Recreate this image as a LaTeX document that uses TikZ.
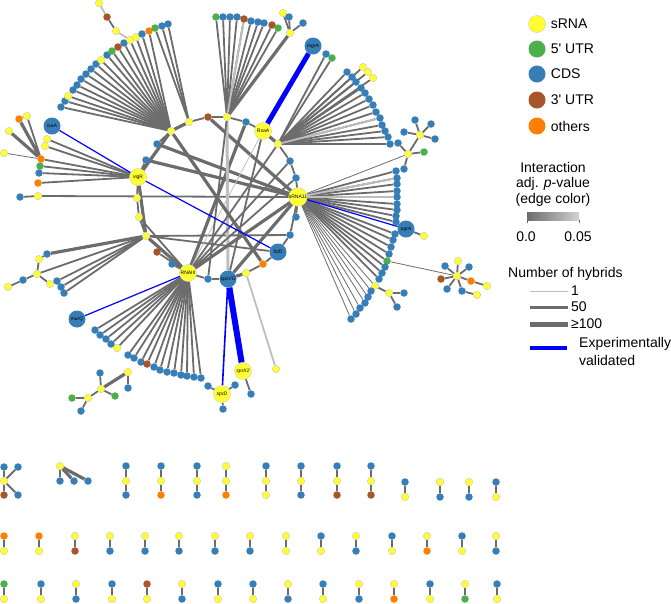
\documentclass[tikz,border=0pt]{standalone}
\usepackage{fontspec}
\newfontfamily\leyenda{Liberation Sans}
\usetikzlibrary{positioning}
\definecolor{amarillo}{RGB}{255,255,51}
\definecolor{verde}{RGB}{77,175,74}
\definecolor{azul}{RGB}{55,126,184}
\definecolor{marron}{RGB}{166,86,40}
\definecolor{naranja}{RGB}{255,127,0}
\definecolor{grisosc}{RGB}{108,108,108}
\definecolor{grisclaro}{RGB}{190,190,190}
\definecolor{valido}{RGB}{0,0,255}
\pgfdeclarelayer{fondo}
\pgfsetlayers{fondo,main}
\tikzset{
  nodo/.style={circle, inner sep=0pt, minimum size=7.5pt, draw=none},
  srna/.style={nodo, fill=amarillo, draw=black!25, line width=0.3pt},
  utrc/.style={nodo, fill=verde},
  cds/.style={nodo, fill=azul},
  utrt/.style={nodo, fill=marron},
  otro/.style={nodo, fill=naranja},
  hub/.style={minimum size=17pt, font=\leyenda\fontsize{5}{5}\selectfont},
  arista/.style={draw=grisosc, line width=1.8pt},
  gruesa/.style={draw=grisosc, line width=3.2pt},
  fina/.style={draw=grisosc, line width=0.8pt},
  clara/.style={draw=grisclaro, line width=1.8pt},
  valid/.style={draw=valido, line width=1.2pt},
  leytexto/.style={font=\leyenda\fontsize{14}{15.5}\selectfont, inner sep=1pt},
}
\begin{document}
\begin{tikzpicture}[x=1pt,y=-1pt]
  \useasboundingbox (0,0) rectangle (671,603);

  % nodos principales
  \node[srna,hub] (rsaa)   at (263,131) {RsaA};
  \node[cds,hub]  (mgra)   at (313,46)  {\itshape mgrA};
  \node[srna,hub] (vigr)   at (138,177) {vigR};
  \node[cds,hub]  (isaa)   at (52,126)  {\itshape isaA};
  \node[srna,hub] (srna11) at (298,197) {sRNA11};
  \node[cds,hub]  (agra)   at (406,229) {\itshape agrA};
  \node[cds,hub]  (fold)   at (278,252) {\itshape folD};
  \node[srna,hub] (rna3)   at (188,273) {RNAIII};
  \node[cds,hub]  (spovg)  at (228,279) {\itshape spoVG};
  \node[cds,hub]  (murq)   at (77,319)  {\itshape murQ};
  \node[srna,hub] (sprx2)  at (243,371) {\itshape sprX2};
  \node[srna,hub] (sprd)   at (222,394) {\itshape sprD};

  % anillo central
  \node[srna] (h1)  at (171,131) {};
  \node[srna] (h2)  at (189,122) {};
  \node[srna] (h3)  at (227,117) {};
  \node[srna] (h4)  at (278,144) {};
  \node[srna] (h5)  at (146,236) {};
  \node[cds]  (r1)  at (157,144) {};
  \node[cds]  (r2)  at (146,160) {};
  \node[srna] (r3)  at (137,198) {};
  \node[srna] (r4)  at (139,217) {};
  \node[utrt] (r5)  at (157,252) {};
  \node[cds]  (r6)  at (172,264) {};
  \node[cds]  (r7)  at (208,279) {};
  \node[srna] (r8)  at (246,273) {};
  \node[otro] (r9)  at (263,264) {};
  \node[cds]  (r10) at (290,235) {};
  \node[cds]  (r11) at (296,217) {};
  \node[cds]  (r12) at (296,178) {};
  \node[cds]  (r13) at (290,161) {};
  \node[cds]  (r14) at (246,122) {};
  \node[utrt] (r15) at (208,117) {};
  \node[cds]  (y1)  at (20,197)  {};
  \node[srna] (y2)  at (38,196)  {};
  \node[srna] (p1)  at (276,369) {};
  \node[cds]  (m1)  at (326,54)  {};
  \node[utrc] (m2)  at (332,58)  {};
  \node[srna] (ag1) at (424,236) {};

  % abanico arriba a la izquierda
  \foreach \x/\y/\c [count=\i] in {61/107/cds, 65/101/cds, 68/96/srna, 73/90/cds,
      77/85/cds, 81/79/cds, 86/74/cds, 91/69/cds, 96/64/cds, 101/60/srna, 107/55/cds,
      112/51/utrc, 118/47/utrt, 124/43/cds, 130/40/srna, 136/37/srna, 142/34/cds,
      149/31/otro, 155/28/utrc, 162/26/cds, 168/24/cds}
    \node[\c] (tl\i) at (\x,\y) {};
  \node[srna] (c1) at (99,3)   {};
  \node[utrt] (c2) at (107,17) {};
  \node[srna] (c3) at (116,31) {};

  % abanico arriba al centro
  \foreach \x/\y/\c [count=\i] in {216/17/utrc, 223/17/cds, 230/17/cds, 237/17/cds,
      244/19/utrt, 251/21/cds, 258/22/cds, 264/23/cds, 272/25/utrt, 278/28/utrc}
    \node[\c] (tc\i) at (\x,\y) {};
  \node[srna] (t11) at (283,13) {};
  \node[cds]  (t12) at (289,17) {};
  \node[srna] (t13) at (290,33) {};
  \node[cds]  (t14) at (303,23) {};

  % abanico de RsaA
  \foreach \x/\y/\c [count=\i] in {347/72/cds, 352/77/cds, 356/82/cds, 361/88/cds,
      365/93/cds, 369/99/cds, 373/105/cds, 376/112/cds, 380/118/cds, 382/125/cds,
      385/131/cds, 388/137/cds, 390/144/cds, 363/67/srna, 368/72/srna, 373/78/srna}
    \node[\c] (rf\i) at (\x,\y) {};

  % estrella 1
  \node[srna] (s1c) at (420,135) {};
  \node[cds]  (s1a) at (415,120) {};
  \node[cds]  (s1b) at (431,124) {};
  \node[cds]  (s1d) at (404,132) {};
  \node[cds]  (s1e) at (435,139) {};
  \node[srna] (s1y) at (408,154) {};
  \node[cds]  (s1f) at (398,143) {};
  \node[utrc] (s1g) at (424,152) {};
  \node[cds]  (s1h) at (404,169) {};

  % abanico de sRNA11
  \foreach \x/\y/\c [count=\i] in {396/171/cds, 397/178/cds, 397/184/cds, 397/191/cds,
      397/197/cds, 397/204/cds, 397/210/cds, 396/216/cds, 396/222/cds, 395/234/cds,
      393/240/cds, 391/247/cds, 389/254/cds, 387/261/utrc, 385/267/cds, 382/273/cds,
      379/279/cds, 375/286/srna, 371/291/cds, 368/297/cds, 365/303/cds, 360/308/cds,
      356/314/cds, 351/319/cds}
    \node[\c] (sf\i) at (\x,\y) {};
  \node[srna] (q1) at (389,293) {};
  \node[cds]  (q2) at (404,293) {};
  \node[cds]  (q3) at (397,307) {};

  % estrella 2
  \node[srna] (s2c) at (457,276) {};
  \node[srna] (s2a) at (458,261) {};
  \node[cds]  (s2b) at (445,266) {};
  \node[cds]  (s2d) at (469,267) {};
  \node[utrt] (s2e) at (441,279) {};
  \node[otro] (s2f) at (471,281) {};
  \node[srna] (s2g) at (487,286) {};
  \node[srna] (s2h) at (477,295) {};
  \node[cds]  (s2i) at (462,291) {};
  \node[cds]  (s2j) at (447,289) {};

  % izquierda de vigR
  \foreach \x/\y/\c [count=\i] in {19/119/otro, 27/116/srna, 9/131/srna, 47/139/srna,
      45/146/srna, 4/153/srna, 41/159/otro, 40/166/utrc, 39/173/cds, 38/183/otro}
    \node[\c] (vl\i) at (\x,\y) {};

  % abajo a la izquierda
  \foreach \x/\y/\c [count=\i] in {47/254/cds, 39/259/srna, 37/274/srna, 23/280/cds,
      8/287/srna, 50/284/srna, 57/281/cds, 61/287/cds, 64/293/cds}
    \node[\c] (ll\i) at (\x,\y) {};

  % abanico de RNAIII
  \foreach \x/\y/\c [count=\i] in {95/330/cds, 100/335/cds, 106/339/cds, 111/344/cds,
      117/348/srna, 128/355/cds, 134/358/cds, 141/362/cds, 147/364/utrt, 154/367/cds,
      160/370/cds, 167/372/cds, 174/373/cds, 181/375/cds, 187/376/cds, 194/377/cds,
      201/378/cds}
    \node[\c] (rl\i) at (\x,\y) {};
  \node[srna] (b1) at (128,372) {};
  \node[cds]  (b2) at (128,388) {};
  \node[srna] (b3) at (101,389) {};
  \node[cds]  (b4) at (100,373) {};
  \node[srna] (b5) at (88,398)  {};
  \node[utrc] (b6) at (72,398)  {};
  \node[utrc] (b7) at (115,396) {};
  \node[cds]  (b8) at (81,411)  {};
  \node[cds]  (sd1) at (208,386) {};
  \node[cds]  (sd2) at (235,385) {};
  \node[cds]  (sd3) at (223,409) {};
  \node[cds]  (sx1) at (251,394) {};

  % componentes sueltas, fila 1
  \node[srna] (k1) at (4,481)  {};
  \node[cds]  (k2) at (4,467)  {};
  \node[cds]  (k3) at (18,467) {};
  \node[utrt] (k4) at (4,495)  {};
  \node[cds]  (k5) at (18,495) {};
  \node[srna] (j1) at (60,466) {};
  \node[cds]  (j2) at (60,481) {};
  \node[cds]  (j3) at (74,481) {};
  \node[cds]  (j4) at (88,481) {};
  \foreach \x/\a/\b/\c [count=\i] in {126/cds/srna/cds, 161/cds/srna/otro,
      197/cds/srna/cds, 226/srna/srna/otro, 266/cds/srna/srna, 301/cds/srna/cds,
      337/cds/srna/utrt, 371/cds/srna/utrt}{
    \node[\a] (ta\i) at (\x,466) {};
    \node[\b] (tb\i) at (\x,481) {};
    \node[\c] (tc\i x) at (\x,495) {};
  }
  \foreach \x/\a/\b [count=\i] in {405/cds/srna, 440/srna/cds, 469/srna/cds, 496/cds/srna}{
    \node[\a] (pa\i) at (\x,482) {};
    \node[\b] (pb\i) at (\x,497) {};
  }
  % fila 2
  \foreach \x/\a/\b [count=\i] in {4/otro/srna, 39/otro/srna, 75/srna/utrt, 110/srna/cds,
      145/srna/cds, 179/srna/cds, 215/srna/cds, 250/srna/cds, 286/srna/srna,
      321/cds/srna, 356/srna/cds, 392/cds/srna, 427/srna/otro, 462/cds/srna, 496/srna/cds}{
    \node[\a] (qa\i) at (\x,536) {};
    \node[\b] (qb\i) at (\x,551) {};
  }
  % fila 3
  \foreach \x/\a/\b [count=\i] in {4/utrc/srna, 41/cds/srna, 76/srna/cds, 112/cds/srna,
      147/utrt/srna, 182/srna/cds, 218/cds/srna, 253/cds/srna, 288/srna/cds,
      323/cds/srna, 359/srna/cds, 394/srna/otro, 430/cds/srna, 465/srna/utrc, 497/cds/srna}{
    \node[\a] (wa\i) at (\x,584) {};
    \node[\b] (wb\i) at (\x,599) {};
  }

  \begin{pgfonlayer}{fondo}
    % abanicos
    \foreach \i in {1,...,18} \draw[arista] (h1) -- (tl\i);
    \foreach \i in {19,20,21} \draw[arista] (h2) -- (tl\i);
    \draw[clara] (c1) -- (c2);
    \draw[arista] (c2) -- (c3);
    \draw[clara] (c3) -- (tl15);
    \foreach \i in {1,...,10} \draw[arista] (h3) -- (tc\i);
    \draw[clara] (h3) -- (tc5);
    \foreach \i in {11,12,14} \draw[arista] (t13) -- (t\i);
    \draw[gruesa] (t13) -- (h3);
    \foreach \i in {1,...,16} \draw[arista] (h4) -- (rf\i);
    \draw[clara] (h4) -- (rf9);
    \draw[arista] (h4) -- (m1);
    \draw[arista] (h4) -- (m2);
    \foreach \i in {1,...,17} \draw[arista] (srna11) -- (sf\i);
    \foreach \i in {18,...,24} \draw[fina] (srna11) -- (sf\i);
    \foreach \i in {2,5} \draw[clara] (srna11) -- (sf\i);
    \draw[arista] (sf18) -- (q1);
    \draw[arista] (q1) -- (q2);
    \draw[arista] (q1) -- (q3);
    \draw[fina] (srna11) -- (s1y);
    \foreach \n in {s1a,s1b,s1d,s1e,s1y} \draw[arista] (s1c) -- (\n);
    \foreach \n in {s1f,s1g,s1h} \draw[arista] (s1y) -- (\n);
    \draw[fina] (sf14) -- (s2c);
    \foreach \n in {s2a,s2b,s2d,s2e,s2f,s2i,s2j} \draw[arista] (s2c) -- (\n);
    \draw[arista] (s2f) -- (s2g);
    \draw[arista] (s2i) -- (s2h);
    \draw[arista] (agra) -- (ag1);
    \foreach \i in {4,5,7,8,9,10} \draw[arista] (vigr) -- (vl\i);
    \draw[gruesa] (vl1) -- (vl7);
    \draw[arista] (vl2) -- (vl7);
    \draw[arista] (vl1) -- (vl2);
    \draw[gruesa] (vl3) -- (vl7);
    \draw[fina] (vl6) -- (vl7);
    \draw[gruesa] (h5) -- (ll1);
    \draw[arista] (ll1) -- (ll2);
    \draw[arista] (ll2) -- (ll3);
    \draw[arista] (h5) -- (ll3);
    \draw[arista] (ll3) -- (ll4);
    \draw[arista] (ll4) -- (ll5);
    \draw[arista] (ll3) -- (ll6);
    \foreach \i in {7,8,9} \draw[arista] (h5) -- (ll\i);
    \foreach \i in {1,...,17} \draw[arista] (rna3) -- (rl\i);
    \draw[arista] (b1) -- (b2);
    \draw[gruesa] (b1) -- (b3);
    \foreach \n in {b4,b5,b7} \draw[arista] (b3) -- (\n);
    \draw[arista] (b5) -- (b6);
    \draw[arista] (b5) -- (b8);
    \foreach \n in {sd1,sd2,sd3} \draw[arista] (sprd) -- (\n);
    \draw[arista] (sprx2) -- (sx1);

    % anillo
    \draw[gruesa] (h1) -- (h2);
    \draw[gruesa] (h1) -- (vigr);
    \draw[arista] (h1) -- (r1);
    \draw[arista] (vigr) -- (r2);
    \draw[gruesa] (vigr) -- (h5);
    \draw[arista] (vigr) -- (r3);
    \draw[arista] (r3) -- (r4);
    \draw[arista] (r4) -- (h5);
    \draw[gruesa] (h5) -- (rna3);
    \draw[arista] (r4) -- (rna3);
    \draw[arista] (r5) -- (rna3);
    \draw[arista] (r6) -- (rna3);
    \draw[arista] (rna3) -- (r7);
    \draw[arista] (r7) -- (spovg);
    \draw[gruesa] (spovg) -- (r8);
    \draw[arista] (r8) -- (r9);
    \draw[arista] (r9) -- (fold);
    \draw[arista] (fold) -- (r10);
    \draw[arista] (r10) -- (srna11);
    \draw[arista] (r11) -- (srna11);
    \draw[arista] (srna11) -- (r12);
    \draw[arista] (r12) -- (r13);
    \draw[arista] (r13) -- (h4);
    \draw[gruesa] (h4) -- (rsaa);
    \draw[arista] (rsaa) -- (r14);
    \draw[arista] (r14) -- (h3);
    \draw[arista] (h3) -- (r15);
    \draw[arista] (r15) -- (h2);

    % cuerdas
    \draw[gruesa] (r1) -- (srna11);
    \draw[gruesa] (r2) -- (srna11);
    \draw[arista] (y1) -- (y2);
    \draw[arista] (y2) -- (srna11);
    \draw[arista] (h5) -- (r10);
    \draw[arista] (h5) -- (fold);
    \draw[gruesa] (r15) -- (srna11);
    \draw[gruesa] (r14) -- (rna3);
    \draw[fina, draw=grisclaro] (rsaa) -- (rna3);
    \draw[clara, line width=3pt] (h3) -- (spovg);
    \draw[arista] (h3) -- (r7);
    \draw[gruesa] (rna3) -- (srna11);
    \draw[arista] (rna3) -- (h4);
    \draw[arista] (rna3) -- (r13);
    \draw[arista] (rna3) -- (r12);
    \draw[gruesa] (spovg) -- (srna11);
    \draw[arista] (spovg) -- (rsaa);
    \draw[gruesa] (h1) -- (r9);
    \draw[clara] (r8) -- (p1);

    % validadas
    \draw[valid] (vigr) -- (fold);
    \draw[valid] (isaa) -- (vigr);
    \draw[valid, line width=5pt] (rsaa) -- (mgra);
    \draw[valid] (srna11) -- (agra);
    \draw[valid] (rna3) -- (murq);
    \draw[valid, line width=6pt] (spovg) -- (sprx2);
    \draw[valid, line width=1.6pt] (spovg) -- (sprd);

    % componentes sueltas
    \foreach \n in {k2,k3,k4,k5} \draw[arista] (k1) -- (\n);
    \draw[arista] (j1) -- (j2);
    \draw[gruesa] (j1) -- (j3);
    \draw[gruesa] (j1) -- (j4);
    \foreach \i in {1,...,8} {
      \draw[arista] (ta\i) -- (tb\i);
      \draw[arista] (tb\i) -- (tc\i x);
    }
    \foreach \i in {1,...,4} \draw[arista] (pa\i) -- (pb\i);
    \foreach \i in {1,...,15} {
      \draw[arista] (qa\i) -- (qb\i);
      \draw[arista] (wa\i) -- (wb\i);
    }
  \end{pgfonlayer}

  % leyenda
  \node[srna, minimum size=17pt] (ley1) at (537,24)  {};
  \node[utrc, minimum size=17pt] (ley2) at (537,49)  {};
  \node[cds,  minimum size=17pt] (ley3) at (537,74)  {};
  \node[utrt, minimum size=17pt] (ley4) at (537,100) {};
  \node[otro, minimum size=17pt] (ley5) at (537,126) {};
  \node[leytexto, right=4pt of ley1] (lt1) {sRNA};
  \node[leytexto, right=4pt of ley2] (lt2) {5' UTR};
  \node[leytexto, right=4pt of ley3] (lt3) {CDS};
  \node[leytexto, right=4pt of ley4] (lt4) {3' UTR};
  \node[leytexto, right=4pt of ley5] (lt5) {others};

  \node[leytexto, align=center] (tit1) at (553,184) {Interaction\\adj. \textit{p}-value\\(edge color)};
  \shade[left color=grisosc, right color=grisclaro!70] (527,212) rectangle (579,220);
  \draw[black!60, line width=0.4pt] (527,220) -- (527,223);
  \draw[black!60, line width=0.4pt] (579,220) -- (579,223);
  \node[leytexto] (v0) at (526,237) {0.0};
  \node[leytexto] (v5) at (578,237) {0.05};

  \node[leytexto, anchor=west] (tit2) at (507,274) {Number of hybrids};
  \coordinate (g1) at (530,291);
  \coordinate (g2) at (530,307);
  \coordinate (g3) at (530,324);
  \coordinate (g4) at (530,348);
  \coordinate (g4b) at (567,348);
  \node[leytexto, anchor=west, inner sep=3pt] (n1) at (568,291) {1};
  \node[leytexto, anchor=west, inner sep=3pt] (n2) at (568,307) {50};
  \node[leytexto, anchor=west, inner sep=3pt] (n3) at (568,324) {≥100};
  \draw[draw=grisclaro, line width=0.9pt] (g1) -- (n1.west);
  \draw[draw=grisosc, line width=3pt] (g2) -- (n2.west);
  \draw[draw=grisosc, line width=5pt] (g3) -- (n3.west);
  \draw[valid, line width=4pt] (g4) -- (g4b);
  \node[leytexto, anchor=west] (n4) at (578,344) {Experimentally};
  \node[leytexto, anchor=west] (n5) at (578,360) {validated};
\end{tikzpicture}
\end{document}
